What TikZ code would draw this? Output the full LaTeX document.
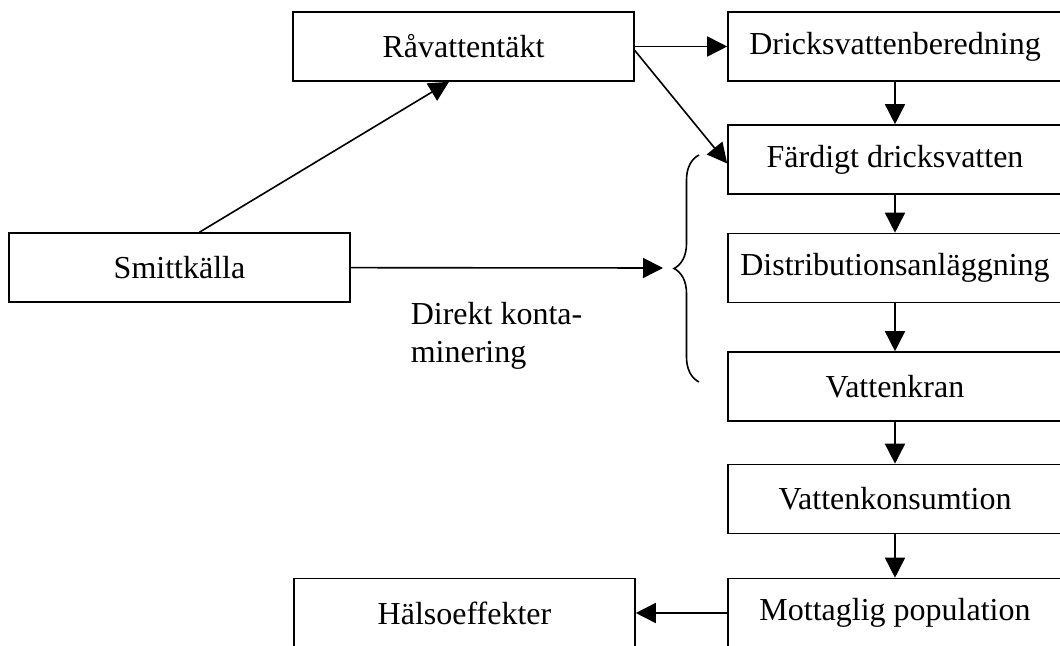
\documentclass[tikz,border=0pt]{standalone}
\usepackage{fontspec}
\setmainfont{Liberation Serif}
\usetikzlibrary{arrows.meta, decorations.pathreplacing}

\begin{document}
\begin{tikzpicture}[x=0.5pt, y=-0.5pt, line width=0.8pt,
    font=\fontsize{16}{19.2}\selectfont,
    box/.style={draw, rectangle, minimum width=170.5pt, minimum height=34.5pt, inner sep=0pt},
    kolumn/.style={box, minimum width=167pt},
    pil/.style={-{Triangle[length=10pt, width=10pt]}}]
  \useasboundingbox (0,0) rectangle (1060,646);

  \begin{scope}
    \node (ravatten) [box] at (463.5,46.5) {Råvattentäkt};
    \node (smitta) [box] at (179.5,267.5) {Smittkälla};
    \node (halsa) [box] at (464.5,613) {Hälsoeffekter};
    \node (beredning) [kolumn] at (895,46.5) {Dricksvattenberedning};
    \node (fardigt) [kolumn] at (895,159.5) {Färdigt dricksvatten};
    \node (distribution) [kolumn] at (895,268) {Distributionsanläggning};
    \node (kran) [kolumn] at (895,386.5) {Vattenkran};
    \node (konsumtion) [kolumn] at (895,499) {Vattenkonsumtion};
    \node (population) [kolumn] at (895,613) {Mottaglig population};
    \node (direkt) [align=left, anchor=west, inner sep=0pt] at (410,336) {Direkt konta-\\minering};
    \coordinate (kontakt) at (663,268);
  \end{scope}

  % klammer
  \draw [decorate, decoration={brace, amplitude=12.5pt}] (699,382) -- (699,155);

  \begin{scope}[pil]
    \path (ravatten) edge (beredning);
    \path ([yshift=-2pt]ravatten.east) edge ([yshift=-2pt]fardigt.west);
    \path ([xshift=10pt]smitta.north) edge ([xshift=-7.25pt]ravatten.south);
    \path (smitta) edge (kontakt);
    \path (beredning) edge (fardigt);
    \path (fardigt) edge (distribution);
    \path (distribution) edge (kran);
    \path (kran) edge (konsumtion);
    \path (konsumtion) edge (population);
    \path (population) edge (halsa);
  \end{scope}
\end{tikzpicture}
\end{document}
